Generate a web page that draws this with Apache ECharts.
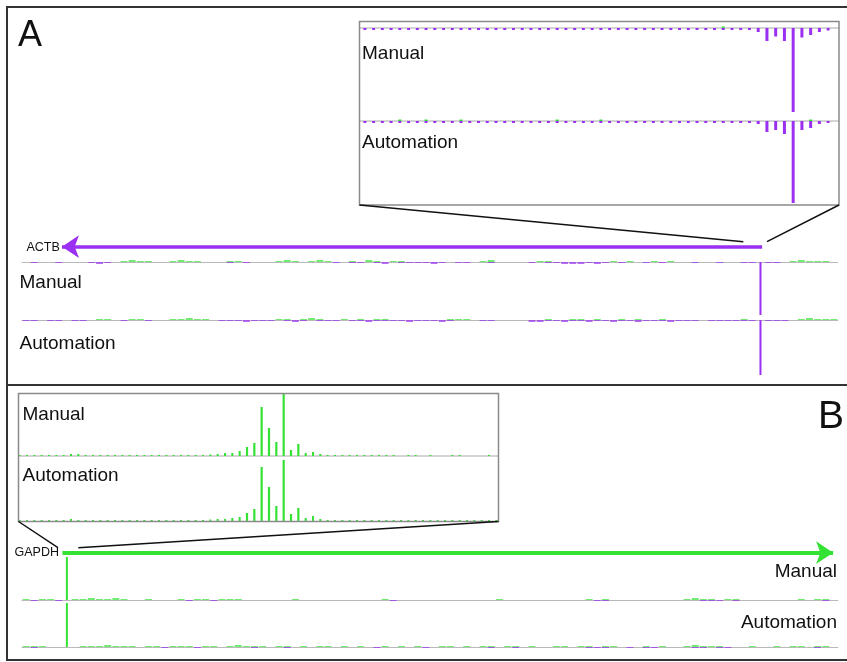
<!DOCTYPE html>
<html>
<head>
<meta charset="utf-8">
<script src="https://cdn.jsdelivr.net/npm/echarts@6/dist/echarts.min.js"></script>
<style>
  html, body { margin: 0; padding: 0; background: #fff; }
  #chart { width: 847px; height: 662px; }
</style>
</head>
<body>
<div id="chart"></div>
<script>
// Strand-specific read coverage, one value per genomic bin.
// Positive values = plus strand (green), negative values = minus strand (purple).

// ---- Panel A: ACTB locus, 100 bins ----
const aManualPlus = [
  0,0,0,0,0,0,0,0,0,0,  0,0,1,2,1,1,0,0,1,2,  1,1,0,0,0,1,1,0,0,0,  0,1,2,1,0,1,2,1,0,0,
  1,0,2,1,0,1,1,0,0,0,  0,0,0,0,0,0,1,2,0,0,  0,0,0,1,1,0,0,0,0,0,  0,0,1,0,1,0,0,1,0,1,
  0,0,0,0,0,0,0,0,0,0,  0,0,0,0,1,2,1,1,1,0
];
const aManualMinus = [
  0,-1,0,0,-1,0,0,0,-1,-2,  -1,0,0,0,0,0,0,0,0,0,  0,0,0,0,0,-1,0,-1,0,0,  0,0,0,0,0,0,0,0,-1,0,
  -1,-1,0,-1,-2,0,-1,-1,-1,-1,  -2,-1,0,-1,-1,0,0,-1,0,0,  0,0,-1,0,-1,-1,-2,-2,-2,-1,
  -2,-1,0,-1,0,0,-1,0,-1,0,  0,0,-1,0,0,-1,0,0,-1,-1,  -53,-1,-1,0,0,0,0,0,0,0
];
const aAutoPlus = [
  0,0,0,0,0,0,0,0,0,1,  1,0,0,1,1,0,0,0,1,1,  2,1,1,0,0,0,0,0,0,0,  0,1,1,0,1,2,1,0,0,1,
  0,1,0,1,1,0,0,0,0,0,  0,0,1,1,1,0,0,0,0,0,  0,0,0,0,1,0,0,1,1,0,  1,0,0,1,0,1,0,0,1,0,
  0,0,0,0,0,0,0,0,1,0,  0,0,0,0,0,1,2,1,1,1
];
const aAutoMinus = [
  -1,-1,0,-1,-1,0,-1,-1,0,0,  0,0,-1,0,0,-1,0,0,0,0,  0,0,0,0,-1,-1,-1,-2,-1,-1,
  -1,0,-1,-2,-1,0,-1,-1,-1,0,  -1,-1,-2,-1,-1,-1,-1,-2,-1,-1,  -1,-2,-1,0,0,0,-1,-1,0,0,
  0,0,-2,-2,-1,-1,-2,-1,-1,-2,  -1,-1,-2,-1,-1,-2,-1,-1,-1,-2,  -1,-1,-1,0,-1,-1,-1,-1,-1,-1,
  -55,-1,-1,-1,0,0,0,0,0,0
];

// ---- Panel A zoom around the ACTB signal, 54 bins ----
const aZoomManualPlus = [
  0,0,0,0,0,0,0,0,0,0,  0,0,0,0,0,0,0,0,0,0,  0,0,0,0,0,0,0,0,0,0,  0,0,0,0,0,0,0,0,0,0,
  0,1.5,0,0,0,0,0,0,0,0,  0,0,0,0
];
const aZoomManualMinus = [
  -2,-2,-2,-2,-2,-2,-2,-2,-2,-2,  -2,-2,-2,-2,-2,-2,-2,-2,-2,-2,  -2,-2,-2,-2,-2,-2,-2,-2,-2,-2,
  -2,-2,-2,-2,-2,-2,-2,-2,-2,-2,  -2,-2,-2,-2,-2,-4,-13,-8.5,-13,-84,  -9.5,-7,-4,-2.5
];
const aZoomAutoPlus = [
  0,0,0,0,1.5,0,0,1.5,0,0,  0,1.5,0,0,0,0,0,0,0,0,  0,0,1.5,0,0,0,0,1.5,0,0,  0,0,0,0,0,0,0,0,0,0,
  0,0,0,0,0,0,0,0,0,0,  0,1.5,0,0
];
const aZoomAutoMinus = [
  -2,-2,-2,-2,-2,-2,-2,-2,-2,-2,  -2,-2,-2,-2,-2,-2,-2,-2,-2,-2,  -2,-2,-2,-2,-2,-2,-2,-2,-2,-2,
  -2,-2,-2,-2,-2,-2,-2,-2,-2,-2,  -2,-2,-2,-2,-2,-3,-11,-9,-13,-82,  -9,-7,-3,-2
];

// ---- Panel B: GAPDH locus, 100 bins ----
const bManualPlus = [
  1,0,1,1,0,43,1,1,2,1,  1,2,1,0,0,1,0,0,0,1,  0,1,1,0,1,1,1,0,0,0,  0,0,0,1,0,0,0,0,0,0,
  0,0,0,0,1,0,0,0,0,0,  0,0,0,0,0,0,0,0,1,0,  0,0,0,0,0,0,0,0,0,1,  0,1,0,0,0,0,0,0,0,0,
  0,1,2,1,1,0,1,1,0,0,  0,0,0,0,0,1,0,1,1,0
];
const bManualMinus = [
  0,-1,0,0,-1,0,0,0,0,0,  0,0,0,0,0,0,0,0,0,0,  -1,0,0,-1,0,0,0,0,0,0,  0,0,0,0,0,0,0,0,0,0,
  0,0,0,0,0,-1,0,0,0,0,  0,0,0,0,0,0,0,0,0,0,  0,0,0,0,0,0,0,0,0,0,  -1,-1,0,0,0,0,0,0,0,0,
  0,0,0,-1,-1,-1,0,-1,0,0,  0,0,0,0,0,0,0,0,-1,0
];
const bAutoPlus = [
  1,1,1,0,0,44,0,1,1,1,  2,1,1,1,0,1,1,0,1,1,  1,0,1,1,0,1,2,1,1,1,  0,1,1,0,1,0,1,1,0,1,
  0,1,0,0,1,0,1,0,1,0,  0,1,1,0,1,0,1,1,0,1,  1,0,1,0,0,1,1,0,1,1,  0,1,1,0,0,0,1,0,1,0,
  0,1,2,1,1,1,0,0,0,1,  0,0,1,0,1,1,0,1,1,0
];
const bAutoMinus = [
  0,-1,0,0,0,0,0,0,0,0,  0,0,0,0,0,0,0,-1,0,0,  0,-1,0,0,0,0,0,0,-1,0,  0,0,-1,0,0,0,0,0,0,0,
  0,0,0,-1,0,0,0,0,0,-1,  0,0,0,0,0,0,0,-1,0,0,  -1,0,0,0,0,0,0,0,0,-1,  -1,-1,0,0,-1,0,-1,-1,0,0,
  0,0,-1,-1,0,-1,-1,0,0,0,  0,0,0,0,0,0,0,-1,0,0
];

// ---- Panel B zoom around the GAPDH signal, 66 bins ----
const bZoomManualPlus = [
  1,1,1,1,1,1,1,2,2,1,  1,1,1,1,1,1,1,1,1,1,  1,1,1,1,1,1,1.5,2,3,3,
  5,9,13,49,28,14,63,6,12,3,  4,2,1,1,1,1,1,1,1,1,  1,1,0,1,1,0,1,0,0,1,  1,0,0,0,1,0
];
const bZoomAutoPlus = [
  1,1,1,1,1,1,1,2,1,1,  1,1,1,1,1,1,1,1,1,1,  1,1,1,1,1,1,1.5,2,2,3,
  4,8,12,54,34,15,61,7,13,3,  5,2,1,1,1,1,1,1,1,1,  1,1,1,1,1,1,1,1,1,1,  1,1,1,1,1,1
];

// Gene arrows in locus-bin units: [arrow tail, arrow tip]
const actbArrow = [90.7, 4.9];
const gapdhArrow = [4.95, 99.4];
// Locus windows shown enlarged in the zoom boxes (bin units)
const actbZoomWindow = [88.4, 91.3];
const gapdhZoomWindow = [4.4, 6.9];

const geneNames = ['ACTB', 'GAPDH'];
const panelLetters = ['A', 'B'];
const trackNames = ['Manual', 'Automation'];

// ---------------------------------------------------------------------------
const FONT = '"Liberation Sans", Arial, Helvetica, sans-serif';
const PURPLE = '#9b30f2';
const GREEN = '#33e233';
const boxA = { x1: 359.5, y1: 21.5, x2: 839, y2: 205 };
const boxB = { x1: 18.5, y1: 393.5, x2: 498.5, y2: 521.5 };

const tracks = [
  { plus: aManualPlus, minus: aManualMinus, left: 22, width: 816, top: 258, height: 60, min: -56, max: 4, noise: 0.85, peak: 2, op: 0.7 },
  { plus: aAutoPlus, minus: aAutoMinus, left: 22, width: 816, top: 316, height: 60, min: -56, max: 4, noise: 0.85, peak: 2, op: 0.7 },
  { plus: aZoomManualPlus, minus: aZoomManualMinus, left: 360.5, width: 472, top: 24, height: 90, min: -86, max: 4, noise: 0.34, peak: 3, op: 1, inset: true },
  { plus: aZoomAutoPlus, minus: aZoomAutoMinus, left: 360.5, width: 472, top: 117, height: 90, min: -86, max: 4, noise: 0.34, peak: 3, op: 1, inset: true },
  { plus: bZoomManualPlus, minus: null, left: 16, width: 484, top: 392, height: 66, min: -2, max: 64, noise: 0.28, peak: 2.2, op: 1, inset: true },
  { plus: bZoomAutoPlus, minus: null, left: 16, width: 484, top: 457, height: 66, min: -2, max: 64, noise: 0.28, peak: 2.2, op: 1, inset: true },
  { plus: bManualPlus, minus: bManualMinus, left: 22, width: 816, top: 554, height: 48, min: -2, max: 46, noise: 0.85, peak: 2, op: 0.7 },
  { plus: bAutoPlus, minus: bAutoMinus, left: 22, width: 816, top: 601, height: 48, min: -2, max: 46, noise: 0.85, peak: 2, op: 0.7 }
];
const ARROW_GRID_A = tracks.length;
const ARROW_GRID_B = tracks.length + 1;

function coverageSeries(values, g, color, t) {
  return {
    type: 'custom',
    xAxisIndex: g,
    yAxisIndex: g,
    silent: true,
    z: 5,
    data: values.map((v, i) => [i, v]),
    renderItem: function (params, api) {
      const v = api.value(1);
      if (!v) return null;
      const i = api.value(0);
      const p0 = api.coord([i, 0]);
      const p1 = api.coord([i, v]);
      const band = api.size([1, 0])[0];
      const w = Math.abs(v) > 5 ? t.peak : band * t.noise;
      return {
        type: 'rect',
        shape: { x: p0[0] - w / 2, y: Math.min(p0[1], p1[1]), width: w, height: Math.max(1, Math.abs(p1[1] - p0[1])) },
        style: { fill: color, opacity: Math.abs(v) > 5 ? 1 : t.op }
      };
    }
  };
}

const grid = [], xAxis = [], yAxis = [], series = [];
tracks.forEach((t, g) => {
  grid.push({ left: t.left, top: t.top, width: t.width, height: t.height });
  xAxis.push({
    type: 'category', gridIndex: g, data: t.plus.map((_, k) => k), boundaryGap: true,
    axisLine: { show: !t.inset, onZero: true, lineStyle: { color: '#b9b9b9', width: 1 } },
    axisTick: { show: false }, axisLabel: { show: false }, splitLine: { show: false }
  });
  yAxis.push({
    type: 'value', gridIndex: g, min: t.min, max: t.max,
    axisLine: { show: false }, axisTick: { show: false }, axisLabel: { show: false }, splitLine: { show: false }
  });
  series.push(coverageSeries(t.plus, g, GREEN, t));
  if (t.minus) series.push(coverageSeries(t.minus, g, PURPLE, t));
});

// gene arrow rows share the locus bin scale (0..100)
[[236.7, actbArrow, PURPLE, 3.5], [542.7, gapdhArrow, GREEN, 4]].forEach((a, k) => {
  const g = tracks.length + k;
  grid.push({ left: 22, top: a[0], width: 816, height: 20 });
  xAxis.push({ type: 'value', gridIndex: g, min: 0, max: 100, show: false });
  yAxis.push({ type: 'value', gridIndex: g, min: -1, max: 1, show: false });
  series.push({
    type: 'lines', coordinateSystem: 'cartesian2d', xAxisIndex: g, yAxisIndex: g, silent: true,
    symbol: ['none', 'arrow'], symbolSize: [12, 17],
    lineStyle: { color: a[2], width: a[3], opacity: 1, curveness: 0 },
    data: [{ coords: [[a[1][0], 0], [a[1][1], 0]] }]
  });
});

const chart = echarts.init(document.getElementById('chart'));
chart.setOption({ animation: false, backgroundColor: '#fff', grid, xAxis, yAxis, series });

// overlay: frame, zoom boxes, connectors and text
const px = (g, x, y) => chart.convertToPixel({ gridIndex: g }, [x, y]);
const lineEl = (x1, y1, x2, y2, stroke, lw, z) => ({
  type: 'line', silent: true, z: z === undefined ? 20 : z,
  shape: { x1, y1, x2, y2 }, style: { stroke, lineWidth: lw }
});
const textEl = (text, x, y, size, align) => ({
  type: 'text', silent: true, z: 30,
  style: { text, x, y, font: size + 'px ' + FONT, fill: '#111', align: align || 'left', verticalAlign: 'middle' }
});

const els = [];
els.push({ type: 'rect', silent: true, z: 40, shape: { x: 7, y: 7, width: 852, height: 653 }, style: { fill: 'none', stroke: '#333', lineWidth: 2 } });
els.push(lineEl(7, 385, 847, 385, '#333', 2));

[boxA, boxB].forEach(b => {
  els.push({ type: 'rect', silent: true, z: 15, shape: { x: b.x1, y: b.y1, width: b.x2 - b.x1, height: b.y2 - b.y1 }, style: { fill: 'none', stroke: '#8a8a8a', lineWidth: 1.5 } });
});
// track baselines inside the zoom boxes sit beneath the coverage marks
[[2, boxA], [3, boxA], [4, boxB]].forEach(([g, b]) => {
  const y0 = px(g, 0, 0)[1];
  els.push(lineEl(b.x1, y0, b.x2, y0, '#a8a8a8', 1, 0));
});

// connectors from zoom boxes to the locus windows on the gene arrows
const aL = px(ARROW_GRID_A, actbZoomWindow[0], 0), aR = px(ARROW_GRID_A, actbZoomWindow[1], 0);
els.push(lineEl(boxA.x1, boxA.y2, aL[0], aL[1] - 5, '#111', 1.5));
els.push(lineEl(boxA.x2, boxA.y2, aR[0], aR[1] - 5, '#111', 1.5));
const bL = px(ARROW_GRID_B, gapdhZoomWindow[0], 0), bR = px(ARROW_GRID_B, gapdhZoomWindow[1], 0);
els.push(lineEl(boxB.x1, boxB.y2, bL[0], bL[1] - 5, '#111', 1.5));
els.push(lineEl(boxB.x2, boxB.y2, bR[0], bR[1] - 5, '#111', 1.5));

// letters and labels
els.push(textEl(panelLetters[0], 18, 36, 36));
els.push(textEl(panelLetters[1], 844, 417, 39, 'right'));
els.push(textEl(geneNames[0], 26.5, 247.5, 12.5));
els.push(textEl(geneNames[1], 14.5, 553, 12.5));
els.push(textEl(trackNames[0], 362, 53.5, 19));
els.push(textEl(trackNames[1], 362, 143, 19));
els.push(textEl(trackNames[0], 19.5, 282.5, 19));
els.push(textEl(trackNames[1], 19.5, 343.5, 19));
els.push(textEl(trackNames[0], 22.5, 414.5, 19));
els.push(textEl(trackNames[1], 22.5, 475.5, 19));
els.push(textEl(trackNames[0], 837, 572, 19, 'right'));
els.push(textEl(trackNames[1], 837, 622.5, 19, 'right'));

chart.setOption({ graphic: { elements: els } });
</script>
</body>
</html>
